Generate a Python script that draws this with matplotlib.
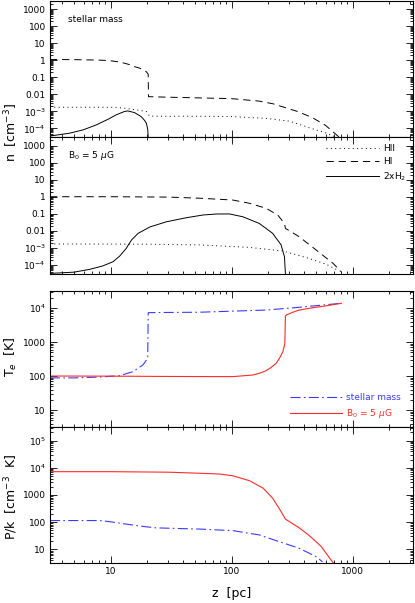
import numpy as np
import matplotlib
matplotlib.use('Agg')
import matplotlib.pyplot as plt
from matplotlib.ticker import LogLocator, NullFormatter

# ---------------- data ----------------
# Panel 1: stellar mass, densities
z1_HII = [3.16, 8, 11.1, 13.5, 15.3, 17.5, 19.8, 20.5, 21, 25, 50, 100, 193, 300, 440, 600, 740]
HII1 = [1.75e-3, 1.75e-3, 1.72e-3, 1.5e-3, 1.3e-3, 1.15e-3, 9.8e-4, 7e-4, 5.3e-4, 5.2e-4, 5.2e-4, 5.0e-4, 3.9e-4, 2.7e-4, 1.1e-4, 5.5e-5, 3e-5]
z1_HI = [3.16, 5, 8, 10, 12, 14.4, 15.3, 17.5, 19.8, 20.5, 20.6, 30, 66, 100, 170, 220, 283, 350, 467, 600, 780]
HI1 = [1.1, 1.08, 1.02, 0.93, 0.78, 0.55, 0.45, 0.34, 0.21, 0.15, 0.0073, 0.0068, 0.006, 0.0056, 0.004, 0.0028, 0.0016, 1.0e-3, 4.3e-4, 1.5e-4, 3e-5]
z1_H2 = [3.16, 4.6, 5.95, 7.6, 9.5, 11.1, 13, 13.9, 15.8, 17.9, 19.1, 19.8, 20.3, 20.5]
H2_1 = [3.6e-5, 5.3e-5, 8.3e-5, 1.6e-4, 3.4e-4, 6.2e-4, 9.8e-4, 1.07e-3, 8.5e-4, 5e-4, 3e-4, 2e-4, 9e-5, 3e-5]

# Panel 2: B0 = 5 muG, densities
z2_HII = [3.16, 20, 54, 141, 266, 440, 606, 780]
HII2 = [1.7e-3, 1.65e-3, 1.5e-3, 1.07e-3, 6.6e-4, 2.4e-4, 1.1e-4, 4.4e-5]
z2_HI = [3.16, 10, 30, 54, 102.5, 141, 193, 241, 274, 279, 363, 501, 690, 808]
HI2 = [1.0, 1.0, 0.95, 0.82, 0.64, 0.41, 0.21, 0.085, 0.027, 0.014, 4.5e-3, 7.5e-4, 1.25e-4, 4e-5]
z2_H2 = [3.16, 5, 6.7, 8.6, 10.5, 11.9, 13.5, 14.9, 16.9, 21.2, 29, 42.5, 58.3, 75, 96, 124, 170, 219, 257, 274, 279]
H2_2 = [3.2e-5, 3.8e-5, 5.5e-5, 8.7e-5, 1.55e-4, 3.3e-4, 9.4e-4, 2.9e-3, 7.1e-3, 0.017, 0.034, 0.059, 0.085, 0.097, 0.098, 0.067, 0.027, 7.1e-3, 1.5e-3, 3e-4, 3e-5]

# Panel 3: electron temperature
z3_star = [3.16, 5, 8, 10, 11.9, 15.3, 18.5, 20.3, 20.5, 30, 54, 103, 193, 363, 501, 810]
Te_star = [88, 88, 93, 98, 102, 134, 210, 330, 7300, 7400, 7500, 8100, 8700, 10500, 11700, 13800]
z3_B = [3.16, 10, 30, 66, 103, 150, 170, 193, 213, 234, 250, 266, 276, 279, 286, 321, 363, 470, 600, 810]
Te_B = [100, 99, 97, 96, 96, 107, 120, 143, 180, 236, 340, 520, 910, 5800, 6300, 7500, 8700, 10200, 11500, 13800]

# Panel 4: pressure
z4_star = [3.16, 8.1, 9.8, 13.5, 18.5, 23.8, 40, 54, 102.5, 170, 250, 363, 501, 565]
P_star = [115, 115, 105, 85, 70, 62, 58, 56, 49, 34, 19, 11, 5.4, 3.5]
z4_B = [3.16, 10, 30, 54.4, 79.6, 102.5, 141, 183, 219, 257, 279, 363, 440, 550, 667, 700]
P_B = [7200, 7200, 6900, 6300, 5900, 5100, 3350, 1770, 760, 245, 130, 62, 32, 13, 4, 3.0]

x_ticks = [10, 100, 1000]
x_ticklabels = ['10', '100', '1000']
n_ticks = [1e-4, 1e-3, 1e-2, 1e-1, 1, 10, 100, 1000]
n_ticklabels = ['10$^{-4}$', '10$^{-3}$', '0.01', '0.1', '1', '10', '100', '1000']
T_ticks = [10, 100, 1000, 1e4]
T_ticklabels = ['10', '100', '1000', '10$^4$']
P_ticks = [10, 100, 1000, 1e4, 1e5]
P_ticklabels = ['10', '100', '1000', '10$^4$', '10$^5$']

# ---------------- figure ----------------
plt.rcParams['font.family'] = ['DejaVu Sans']
plt.rcParams['mathtext.fontset'] = 'dejavusans'

W, H = 415, 603
fig = plt.figure(figsize=(W / 100, H / 100), dpi=100)

L, R = 50, 413

def add_ax(top_px, bot_px):
    return fig.add_axes([L / W, 1 - bot_px / H, (R - L) / W, (bot_px - top_px) / H])

def style(ax, ylim, yticks, ylabels, xlabels=False):
    ax.set_xscale('log')
    ax.set_yscale('log')
    ax.set_xlim(10 ** 0.5, 10 ** 3.5)
    ax.set_ylim(*ylim)
    ax.set_yticks(yticks, ylabels)
    ax.yaxis.set_minor_locator(LogLocator(base=10, subs=np.arange(2, 10), numticks=100))
    ax.yaxis.set_minor_formatter(NullFormatter())
    ax.set_xticks(x_ticks, x_ticklabels)
    ax.xaxis.set_minor_locator(LogLocator(base=10, subs=np.arange(2, 10), numticks=100))
    ax.xaxis.set_minor_formatter(NullFormatter())
    ax.tick_params(which='both', direction='in', top=True, right=True,
                   labelsize=6.5, width=0.6, color='black', pad=3)
    ax.tick_params(which='major', length=5)
    ax.tick_params(which='minor', length=2.5)
    if not xlabels:
        ax.tick_params(labelbottom=False)
    for s in ax.spines.values():
        s.set_linewidth(0.8)

dash_k = (7.5, 5)
dot_k = (1, 3.5)
dashdot_b = (9, 3, 1.5, 3)
red = '#ff2a2a'
blue = '#3a3aff'

# Panel 1
ax1 = add_ax(0.5, 137)
style(ax1, (10 ** -4.5, 10 ** 3.5), n_ticks, n_ticklabels)
ax1.plot(z1_HII, HII1, color='black', lw=0.7, dashes=dot_k)
ax1.plot(z1_HI, HI1, color='black', lw=0.7, dashes=dash_k)
ax1.plot(z1_H2, H2_1, color='black', lw=0.7)
ax1.text(0.05, 0.862, 'stellar mass', transform=ax1.transAxes, fontsize=6.5, va='center', ha='left')

# Panel 2
ax2 = add_ax(137, 273.5)
style(ax2, (10 ** -4.5, 10 ** 3.5), n_ticks, n_ticklabels)
ax2.plot(z2_HII, HII2, color='black', lw=0.7, dashes=dot_k, label='HII')
ax2.plot(z2_HI, HI2, color='black', lw=0.7, dashes=dash_k, label='HI')
ax2.plot(z2_H2, H2_2, color='black', lw=0.7, label='2xH$_2$')
ax2.text(0.05, 0.868, 'B$_0$ = 5 $\\mu$G', transform=ax2.transAxes, fontsize=6.5, va='center', ha='left')
ax2.legend(loc='upper right', bbox_to_anchor=(1.0, 0.995), frameon=False, fontsize=6.5,
           handlelength=5.8, handletextpad=0.5, labelspacing=0.45, borderaxespad=0.3)

# Panel 3
ax3 = add_ax(291, 427)
style(ax3, (10 ** 0.5, 10 ** 4.5), T_ticks, T_ticklabels)
ax3.plot(z3_star, Te_star, color=blue, lw=0.8, dashes=dashdot_b, label='stellar mass')
ax3.plot(z3_B, Te_B, color=red, lw=0.8, label='B$_0$ = 5 $\\mu$G')
ax3.legend(loc='lower right', bbox_to_anchor=(0.985, 0.005), frameon=False, fontsize=6.5,
           handlelength=5.8, handletextpad=0.5, labelspacing=0.55, borderaxespad=0.3,
           labelcolor='linecolor')

# Panel 4
ax4 = add_ax(427, 563)
style(ax4, (10 ** 0.5, 10 ** 5.5), P_ticks, P_ticklabels, xlabels=True)
ax4.plot(z4_star, P_star, color=blue, lw=0.8, dashes=dashdot_b)
ax4.plot(z4_B, P_B, color=red, lw=0.8)

# axis labels
fig.text(11 / W, 1 - 133 / H, 'n  [cm$^{-3}$]', rotation=90, ha='center', va='center', fontsize=9)
fig.text(11 / W, 1 - 357 / H, 'T$_e$  [K]', rotation=90, ha='center', va='center', fontsize=9)
fig.text(11 / W, 1 - 497 / H, 'P/k  [cm$^{-3}$  K]', rotation=90, ha='center', va='center', fontsize=9)
fig.text(232 / W, 1 - 594 / H, 'z  [pc]', ha='center', va='center', fontsize=9)

fig.savefig('out.png', dpi=100)
